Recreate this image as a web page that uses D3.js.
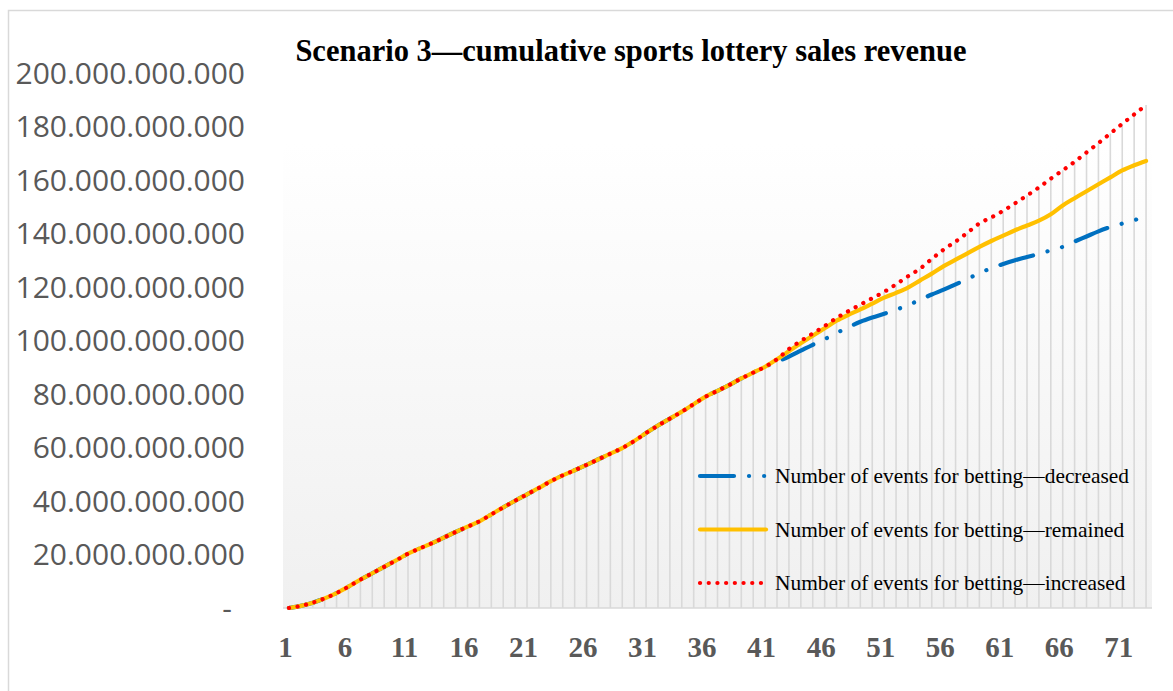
<!DOCTYPE html>
<html>
<head>
<meta charset="utf-8">
<script src="https://cdn.jsdelivr.net/npm/d3@7"></script>
<style>
  body { margin: 0; background: #fff; }
  svg { display: block; }
</style>
</head>
<body>
<div id="chart"></div>
<script>
// values in billions
const categories = d3.range(1, 74);
const common = [0, 0.8, 2.0, 3.6, 5.6, 8.0, 10.6, 13.0, 15.4, 17.8, 20.3, 22.3, 24.2, 26.3, 28.4, 30.4, 32.4, 35.0, 37.6, 40.1,
  42.5, 44.9, 47.4, 49.6, 51.5, 53.5, 55.6, 57.7, 59.8, 62.4, 65.4, 68.2, 70.8, 73.4, 76.2, 79.0, 81.2, 83.4, 85.8, 88.0, 90.2];
const decreasedTail = [92.0, 94.0, 96.2, 98.4, 100.5, 102.8, 105.0, 107.0, 108.6, 110.0, 111.5, 113.2, 115.2, 117.2, 119.0, 121.0,
  123.0, 125.2, 127.0, 128.6, 130.0, 131.2, 132.4, 133.7, 135.0, 137.0, 138.9, 140.8, 142.4, 143.7, 145.0, 146.3];
const remainedTail = [93.0, 96.0, 99.0, 101.8, 104.6, 107.4, 109.6, 111.6, 113.8, 116.0, 117.8, 119.8, 122.4, 125.0, 127.8, 130.2,
  132.6, 135.0, 137.2, 139.2, 141.2, 143.0, 144.8, 147.2, 150.5, 153.2, 155.8, 158.4, 161.0, 163.6, 165.5, 167.1];
const increasedTail = [93.0, 96.8, 99.8, 102.6, 105.4, 108.4, 111.0, 113.4, 115.8, 118.2, 121.0, 124.0, 126.8, 130.5, 134.0, 137.0,
  140.3, 143.8, 146.0, 148.5, 151.3, 154.2, 157.2, 160.5, 163.6, 166.8, 170.3, 173.8, 177.4, 181.0, 184.5, 188.0];
const decreased = common.concat(decreasedTail);
const remained = common.concat(remainedTail);
const increased = common.concat(increasedTail);
const yTicks = [0, 20, 40, 60, 80, 100, 120, 140, 160, 180, 200];
const xTickLabels = [1, 6, 11, 16, 21, 26, 31, 36, 41, 46, 51, 56, 61, 66, 71];
const seriesNames = ['Number of events for betting—decreased', 'Number of events for betting—remained', 'Number of events for betting—increased'];

const width = 1173, height = 691;
const plot = { left: 283, right: 1152, top: 73, bottom: 608 };

const svg = d3.select('#chart').append('svg').attr('width', width).attr('height', height);

svg.append('rect').attr('x', 8.5).attr('y', 10.5).attr('width', 1200).attr('height', 700)
  .attr('fill', '#fff').attr('stroke', '#d9d9d9').attr('stroke-width', 1.5);

const defs = svg.append('defs');
const grad = defs.append('linearGradient').attr('id', 'bg-grad').attr('x1', '0%').attr('y1', '0%').attr('x2', '0%').attr('y2', '100%');
grad.append('stop').attr('offset', '0%').attr('stop-color', '#ffffff');
grad.append('stop').attr('offset', '100%').attr('stop-color', '#f0f0f0');

svg.append('rect').attr('x', plot.left).attr('y', 143).attr('width', plot.right - plot.left).attr('height', plot.bottom - 143)
  .attr('fill', 'url(#bg-grad)');

const x = d3.scalePoint().domain(categories).range([plot.left, plot.right]).padding(0.5);
const y = d3.scaleLinear().domain([0, 200]).range([plot.bottom, plot.top]);

// drop lines from highest series
svg.append('g').selectAll('line').data(categories).join('line')
  .attr('x1', d => x(d)).attr('x2', d => x(d))
  .attr('y1', (d, i) => y(Math.max(decreased[i], remained[i], increased[i])))
  .attr('y2', plot.bottom)
  .attr('stroke', '#d9d9d9').attr('stroke-width', 1.6);

// x axis line
svg.append('line').attr('x1', plot.left).attr('x2', plot.right).attr('y1', plot.bottom).attr('y2', plot.bottom)
  .attr('stroke', '#d9d9d9').attr('stroke-width', 1.5);

// y labels
const loc = d3.formatLocale({ decimal: ',', thousands: '.', grouping: [3], currency: ['', ''] });
const fmt = loc.format(',d');
svg.append('g').selectAll('text').data(yTicks).join('text')
  .attr('x', d => d === 0 ? 232 : 245)
  .attr('y', d => y(d))
  .attr('dy', '0.36em')
  .attr('text-anchor', 'end')
  .attr('font-family', '"Open Sans", sans-serif')
  .attr('font-size', 30)
  .attr('fill', '#595959')
  .text(d => d === 0 ? '-' : fmt(d * 1e9));

// x labels
const xAxis = d3.axisBottom(x).tickValues(xTickLabels).tickSize(0).tickPadding(0);
const xg = svg.append('g').attr('transform', `translate(-4, ${plot.bottom})`).call(xAxis);
xg.select('.domain').remove();
xg.selectAll('.tick text')
  .attr('y', 49)
  .attr('dy', 0)
  .attr('font-family', '"Liberation Serif", "Times New Roman", serif')
  .attr('font-weight', 'bold')
  .attr('font-size', 29)
  .attr('fill', '#595959');

// lines
const line = d3.line().x((d, i) => x(categories[i])).y(d => y(d)).curve(d3.curveMonotoneX);
const styles = [
  { data: decreased, color: '#0070c0', dash: '34,15,0.1,15,0.1,15' },
  { data: remained, color: '#ffc000', dash: null },
  { data: increased, color: '#ff0000', dash: '0.1,8.6' }
];
styles.forEach(s => {
  svg.append('path').datum(s.data).attr('d', line)
    .attr('fill', 'none').attr('stroke', s.color).attr('stroke-width', 4.2)
    .attr('stroke-linecap', 'round').attr('stroke-linejoin', 'round')
    .attr('stroke-dasharray', s.dash);
});

// title
svg.append('text').attr('x', 631).attr('y', 61).attr('text-anchor', 'middle')
  .attr('font-family', '"Liberation Serif", "Times New Roman", serif')
  .attr('font-weight', 'bold').attr('font-size', 30.5).attr('fill', '#000')
  .text('Scenario 3—cumulative sports lottery sales revenue');

// legend
const legendY = [476, 529.5, 583];
const lg = svg.append('g');
styles.forEach((s, i) => {
  lg.append('line').attr('x1', 700).attr('x2', 766).attr('y1', legendY[i]).attr('y2', legendY[i])
    .attr('stroke', s.color).attr('stroke-width', 4.2).attr('stroke-linecap', 'round')
    .attr('stroke-dasharray', s.dash);
  lg.append('text').attr('x', 775).attr('y', legendY[i] + 7)
    .attr('font-family', '"Liberation Serif", "Times New Roman", serif')
    .attr('font-size', 21.4).attr('fill', '#000')
    .text(seriesNames[i]);
});
</script>
</body>
</html>
